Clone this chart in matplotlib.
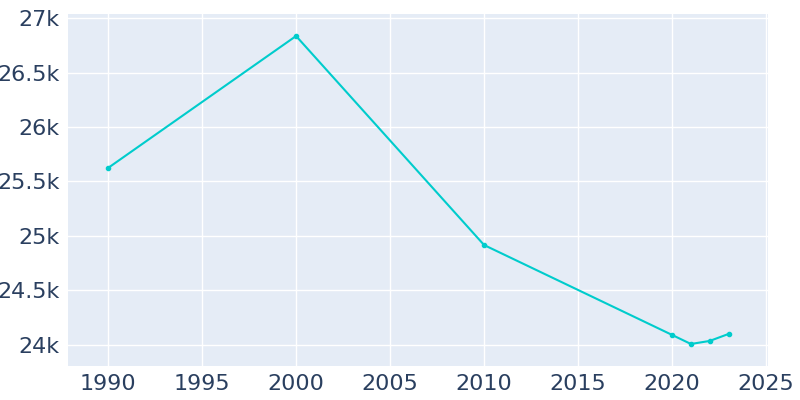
import matplotlib
matplotlib.use("Agg")
import matplotlib.pyplot as plt
from matplotlib.ticker import FuncFormatter

years = [1990, 2000, 2010, 2020, 2021, 2022, 2023]
population = [25624, 26835, 24917, 24092, 24009, 24037, 24101]
xticks = [1990, 1995, 2000, 2005, 2010, 2015, 2020, 2025]
yticks = [24000, 24500, 25000, 25500, 26000, 26500, 27000]

fig = plt.figure(figsize=(8, 4), dpi=100)
ax = fig.add_axes([0.085, 0.085, 0.875, 0.88])
ax.set_facecolor("#e5ecf6")
ax.plot(years, population, color="#00cccc", lw=1.5, marker="o", ms=3, zorder=3)
ax.set_xlim(1987.87, 2025.1)
ax.set_ylim(23807, 27037)
ax.set_xticks(xticks)
ax.set_yticks(yticks)
ax.yaxis.set_major_formatter(FuncFormatter(lambda v, p: f"{v/1000:g}k"))
ax.grid(True, color="white", lw=1)
ax.set_axisbelow(True)
for s in ax.spines.values():
    s.set_visible(False)
ax.tick_params(length=0, labelsize=16, colors="#2a3f5f", pad=6)
fig.savefig("out.png", dpi=100)
